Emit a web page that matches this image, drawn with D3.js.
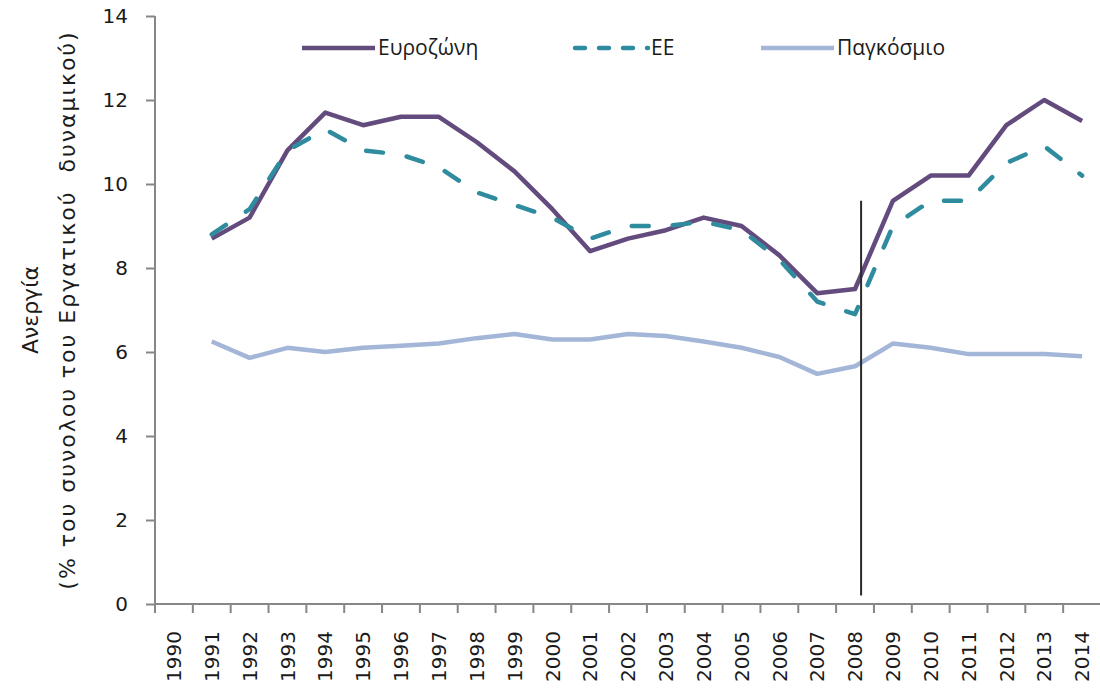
<!DOCTYPE html>
<html>
<head>
<meta charset="utf-8">
<script src="https://cdn.jsdelivr.net/npm/d3@7"></script>
<style>
  body { margin: 0; background: #fff; }
  .axis path, .axis line { stroke: #878787; stroke-width: 2; }
  .axis text { font-family: "DejaVu Sans", sans-serif; font-size: 20px; fill: #1b1b1b; }
  .legend text { font-family: "Open Sans", sans-serif; font-size: 21px; fill: #1b1b1b; }
  .ytitle { font-family: "DejaVu Sans", sans-serif; font-size: 22px; fill: #1b1b1b; white-space: pre; }
</style>
</head>
<body>
<script>
// years on the x axis (1990 has no data)
var years = d3.range(1990, 2015);
var dataYears = d3.range(1991, 2015);

// unemployment, % of labour force
var eurozone = [8.7, 9.2, 10.8, 11.7, 11.4, 11.6, 11.6, 11.0, 10.3, 9.4, 8.4, 8.7,
                8.9, 9.2, 9.0, 8.3, 7.4, 7.5, 9.6, 10.2, 10.2, 11.4, 12.0, 11.5];
var eu = [8.8, 9.4, 10.8, 11.3, 10.8, 10.7, 10.4, 9.8, 9.5, 9.2, 8.7, 9.0,
          9.0, 9.1, 8.9, 8.2, 7.2, 6.9, 9.0, 9.6, 9.6, 10.5, 10.9, 10.2];
var world = [6.25, 5.86, 6.1, 6.0, 6.1, 6.15, 6.2, 6.33, 6.43, 6.3, 6.3, 6.43,
             6.38, 6.25, 6.1, 5.88, 5.48, 5.66, 6.2, 6.1, 5.95, 5.95, 5.95, 5.9];

var seriesNames = ["Ευροζώνη", "ΕΕ", "Παγκόσμιο"];
var yTicks = [0, 2, 4, 6, 8, 10, 12, 14];

// crisis marker: just after the 2008 point
var markYear = 2008, markFrom = 0.2, markTo = 9.6;

var w = 1100, h = 690;
var pLeft = 155, pRight = 1101, pTop = 16, pBottom = 604;

var svg = d3.select("body").append("svg")
  .attr("width", w)
  .attr("height", h);

var x = d3.scaleBand()
  .domain(years)
  .range([pLeft, pRight]);

var y = d3.scaleLinear()
  .domain([0, 14])
  .range([pBottom, pTop]);

var cx = function(yr){ return x(yr) + x.bandwidth() / 2; };

// y axis
svg.append("g")
  .attr("class", "axis")
  .attr("transform", "translate(" + pLeft + ",0)")
  .call(d3.axisLeft(y).tickValues(yTicks).tickSize(9).tickSizeOuter(0).tickPadding(18))
  .call(function(g){ g.select(".domain").attr("d", "M0," + pTop + "V" + pBottom); });

// x axis: labels at band centres, ticks at band edges
var xAxis = svg.append("g")
  .attr("class", "axis")
  .attr("transform", "translate(0," + pBottom + ")")
  .call(d3.axisBottom(x).tickSize(0).tickPadding(0));
xAxis.select(".domain").attr("d", "M" + pLeft + ",0H" + pRight);
xAxis.selectAll(".tick text")
  .attr("transform", "rotate(-90)")
  .attr("text-anchor", "end")
  .attr("x", -27)
  .attr("y", 0)
  .attr("dy", "0.36em");
xAxis.selectAll(".edge")
  .data(years.concat([null]))
  .enter()
  .append("line")
  .attr("class", "edge")
  .attr("x1", function(d){ return d === null ? pRight : x(d); })
  .attr("x2", function(d){ return d === null ? pRight : x(d); })
  .attr("y1", 0)
  .attr("y2", 9);

// y axis title
var title = svg.append("text")
  .attr("class", "ytitle")
  .attr("transform", "translate(0," + ((pTop + pBottom) / 2) + ") rotate(-90)")
  .attr("text-anchor", "middle");
title.append("tspan").attr("x", 0).attr("y", 38).text("Ανεργία");
title.append("tspan").attr("x", 0).attr("y", 75)
  .style("letter-spacing", "2px")
  .text("(% του συνολου του Εργατικού  δυναμικού)");

// lines
var line = d3.line()
  .x(function(d){ return cx(d.year); })
  .y(function(d){ return y(d.v); });

function rows(vals){
  return dataYears.map(function(yr, i){ return { year: yr, v: vals[i] }; });
}

var styles = [
  { color: "#a3b6d8", dash: null },
  { color: "#634b7e", dash: null },
  { color: "#2f8c9f", dash: "17,24" }
];

var order = [
  { vals: world, s: styles[0] },
  { vals: eurozone, s: styles[1] },
  { vals: eu, s: styles[2] }
];

svg.selectAll(".series")
  .data(order)
  .enter()
  .append("path")
  .attr("class", "series")
  .attr("d", function(d){ return line(rows(d.vals)); })
  .attr("fill", "none")
  .attr("stroke", function(d){ return d.s.color; })
  .attr("stroke-width", 4.5)
  .attr("stroke-linejoin", "round")
  .attr("stroke-linecap", function(d){ return d.s.dash ? "round" : "butt"; })
  .attr("stroke-dasharray", function(d){ return d.s.dash; });

// crisis marker
var mx = x(markYear) + x.bandwidth() * 0.66;
svg.append("line")
  .attr("x1", mx).attr("x2", mx)
  .attr("y1", y(markTo)).attr("y2", y(markFrom))
  .attr("stroke", "#2a2a2a")
  .attr("stroke-width", 2);

// legend
var legendX = [302, 575, 761];
var legend = svg.append("g").attr("class", "legend");
var items = legend.selectAll("g")
  .data(seriesNames)
  .enter()
  .append("g")
  .attr("transform", function(d, i){ return "translate(" + legendX[i] + ",48)"; });
items.append("line")
  .attr("x1", 0).attr("x2", 73)
  .attr("y1", 0).attr("y2", 0)
  .attr("stroke", function(d, i){ return styles[[1, 2, 0][i]].color; })
  .attr("stroke-width", 4.5)
  .attr("stroke-linecap", function(d, i){ return i === 1 ? "round" : "butt"; })
  .attr("stroke-dasharray", function(d, i){ return i === 1 ? "10,14" : null; });
items.append("text")
  .attr("x", 76)
  .attr("y", 0)
  .attr("dy", "0.35em")
  .text(function(d){ return d; });
</script>
</body>
</html>
